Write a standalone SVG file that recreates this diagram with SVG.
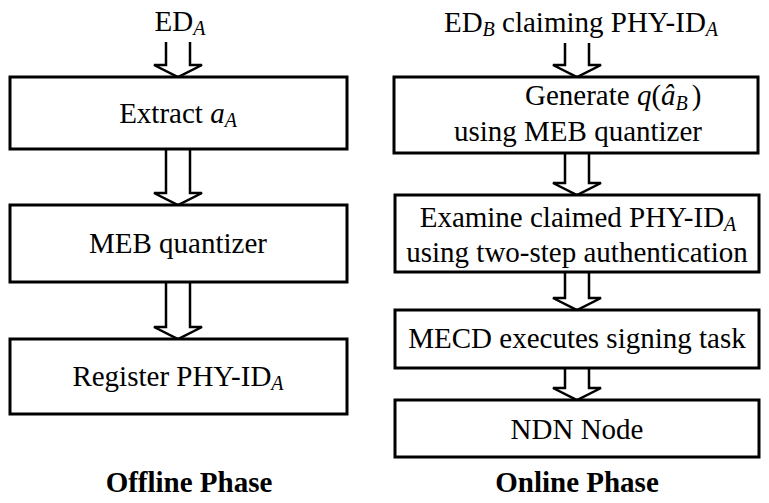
<svg xmlns="http://www.w3.org/2000/svg" width="769" height="503" viewBox="0 0 769 503">
<style>
.box{fill:#fff;stroke:#000;stroke-width:3}
.arr{fill:#fff;stroke:#000;stroke-width:2.5;stroke-linejoin:miter}
</style>
<rect width="769" height="503" fill="#fff"/>
<g id="connectors">
<path class="arr" d="M166,42 V65 H154 L178,77 L202,65 H190 V42"/>
<path class="arr" d="M166,149 V193 H154 L178,205 L202,193 H190 V149"/>
<path class="arr" d="M166,282 V327 H154 L178,339 L202,327 H190 V282"/>
<path class="arr" d="M565,43 V65 H553 L577,77 L601,65 H589 V43"/>
<path class="arr" d="M565,153 V183 H553 L577,195 L601,183 H589 V153"/>
<path class="arr" d="M565,272 V298 H553 L577,310 L601,298 H589 V272"/>
<path class="arr" d="M565,368 V388 H553 L577,400 L601,388 H589 V368"/>
</g>
<g id="input-a"><text font-family="Liberation Serif" font-size="29" text-anchor="middle" x="180" y="31">ED<tspan font-size="20" font-style="italic" dy="4">A</tspan></text></g>
<g id="input-b"><text font-family="Liberation Serif" font-size="29" text-anchor="middle" x="581" y="32">ED<tspan font-size="20" font-style="italic" dy="4">B</tspan><tspan dy="-4"> claiming PHY-ID</tspan><tspan font-size="20" font-style="italic" dy="4">A</tspan></text></g>
<g id="extract">
<rect class="box" x="10" y="77" width="337" height="72"/>
<text font-family="Liberation Serif" font-size="29" text-anchor="middle" x="178" y="123">Extract <tspan font-style="italic">a</tspan><tspan font-size="20" font-style="italic" dy="4">A</tspan></text>
</g>
<g id="meb">
<rect class="box" x="10" y="205" width="337" height="77"/>
<text font-family="Liberation Serif" font-size="29" text-anchor="middle" x="178" y="253">MEB quantizer</text>
</g>
<g id="register">
<rect class="box" x="10" y="339" width="337" height="75"/>
<text font-family="Liberation Serif" font-size="29" text-anchor="middle" x="178" y="386">Register PHY-ID<tspan font-size="20" font-style="italic" dy="4">A</tspan></text>
</g>
<g id="generate">
<rect class="box" x="394" y="77" width="364" height="76"/>
<text font-family="Liberation Serif" font-size="29" x="525" y="105">Generate <tspan font-style="italic">q</tspan>(<tspan font-style="italic">â</tspan><tspan font-size="20" font-style="italic" dy="5">B</tspan><tspan dy="-5" dx="4">)</tspan></text>
<text font-family="Liberation Serif" font-size="29" text-anchor="middle" x="578" y="141">using MEB quantizer</text>
</g>
<g id="examine">
<rect class="box" x="395" y="195" width="364" height="77"/>
<text font-family="Liberation Serif" font-size="29" text-anchor="middle" x="578" y="227">Examine claimed PHY-ID<tspan font-size="20" font-style="italic" dy="4">A</tspan></text>
<text font-family="Liberation Serif" font-size="29" text-anchor="middle" x="577" y="262">using two-step authentication</text>
</g>
<g id="mecd">
<rect class="box" x="395" y="310" width="364" height="58"/>
<text font-family="Liberation Serif" font-size="29" text-anchor="middle" x="577" y="348">MECD executes signing task</text>
</g>
<g id="ndn">
<rect class="box" x="395" y="400" width="364" height="57"/>
<text font-family="Liberation Serif" font-size="29" text-anchor="middle" x="577" y="439">NDN Node</text>
</g>
<g id="titles">
<text font-family="Liberation Serif" font-size="29" font-weight="bold" text-anchor="middle" x="189" y="492">Offline Phase</text>
<text font-family="Liberation Serif" font-size="29" font-weight="bold" text-anchor="middle" x="577" y="492">Online Phase</text>
</g>
</svg>
